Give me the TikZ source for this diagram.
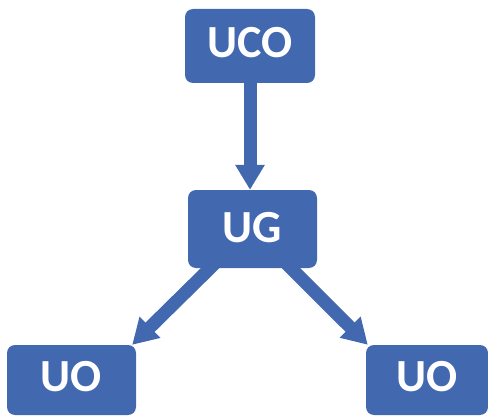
\documentclass[tikz,border=0pt]{standalone}
\usepackage{fontspec}
\setmainfont{Carlito}
\usetikzlibrary{arrows.meta,calc,backgrounds}
\definecolor{boxblue}{RGB}{66,104,176}
\tikzset{
  unitbox/.style={fill=boxblue, rounded corners=8pt, inner sep=0pt,
    text=white, font=\bfseries\fontsize{46}{50}\selectfont,
    text height=30pt},
  flowarrow/.style={draw=boxblue, line width=13pt,
    -{Triangle[width=28pt,length=25pt]}, shorten <=-8pt}
}
\begin{document}
\begin{tikzpicture}[x=1pt,y=1pt]
\useasboundingbox (0,0) rectangle (488,416);
\node[unitbox, minimum width=130pt, minimum height=74pt, text depth=7pt] (UCO) at (250,370) {UCO};
\node[unitbox, minimum width=129pt, minimum height=78pt, text depth=4pt] (UG) at (252.5,187) {UG};
\node[unitbox, minimum width=129pt, minimum height=70pt, text depth=8pt] (UOL) at (71.5,36) {UO};
\node[unitbox, minimum width=122pt, minimum height=70pt, text depth=8pt] (UOR) at (427,36) {UO};
\coordinate (UGl) at ($(UG.south)+(-42.5,0)$);
\coordinate (UGr) at ($(UG.south)+(38.5,0)$);
\coordinate (UOLt) at ($(UOL.north east)+(-4,0)$);
\coordinate (UORt) at ($(UOR.north west)+(2,0)$);
\begin{scope}[on background layer]
\draw[flowarrow] (UCO.south) -- (UCO.south |- UG.north);
\draw[flowarrow] (UGl) -- (UOLt);
\draw[flowarrow] (UGr) -- (UORt);
\end{scope}
\end{tikzpicture}
\end{document}
